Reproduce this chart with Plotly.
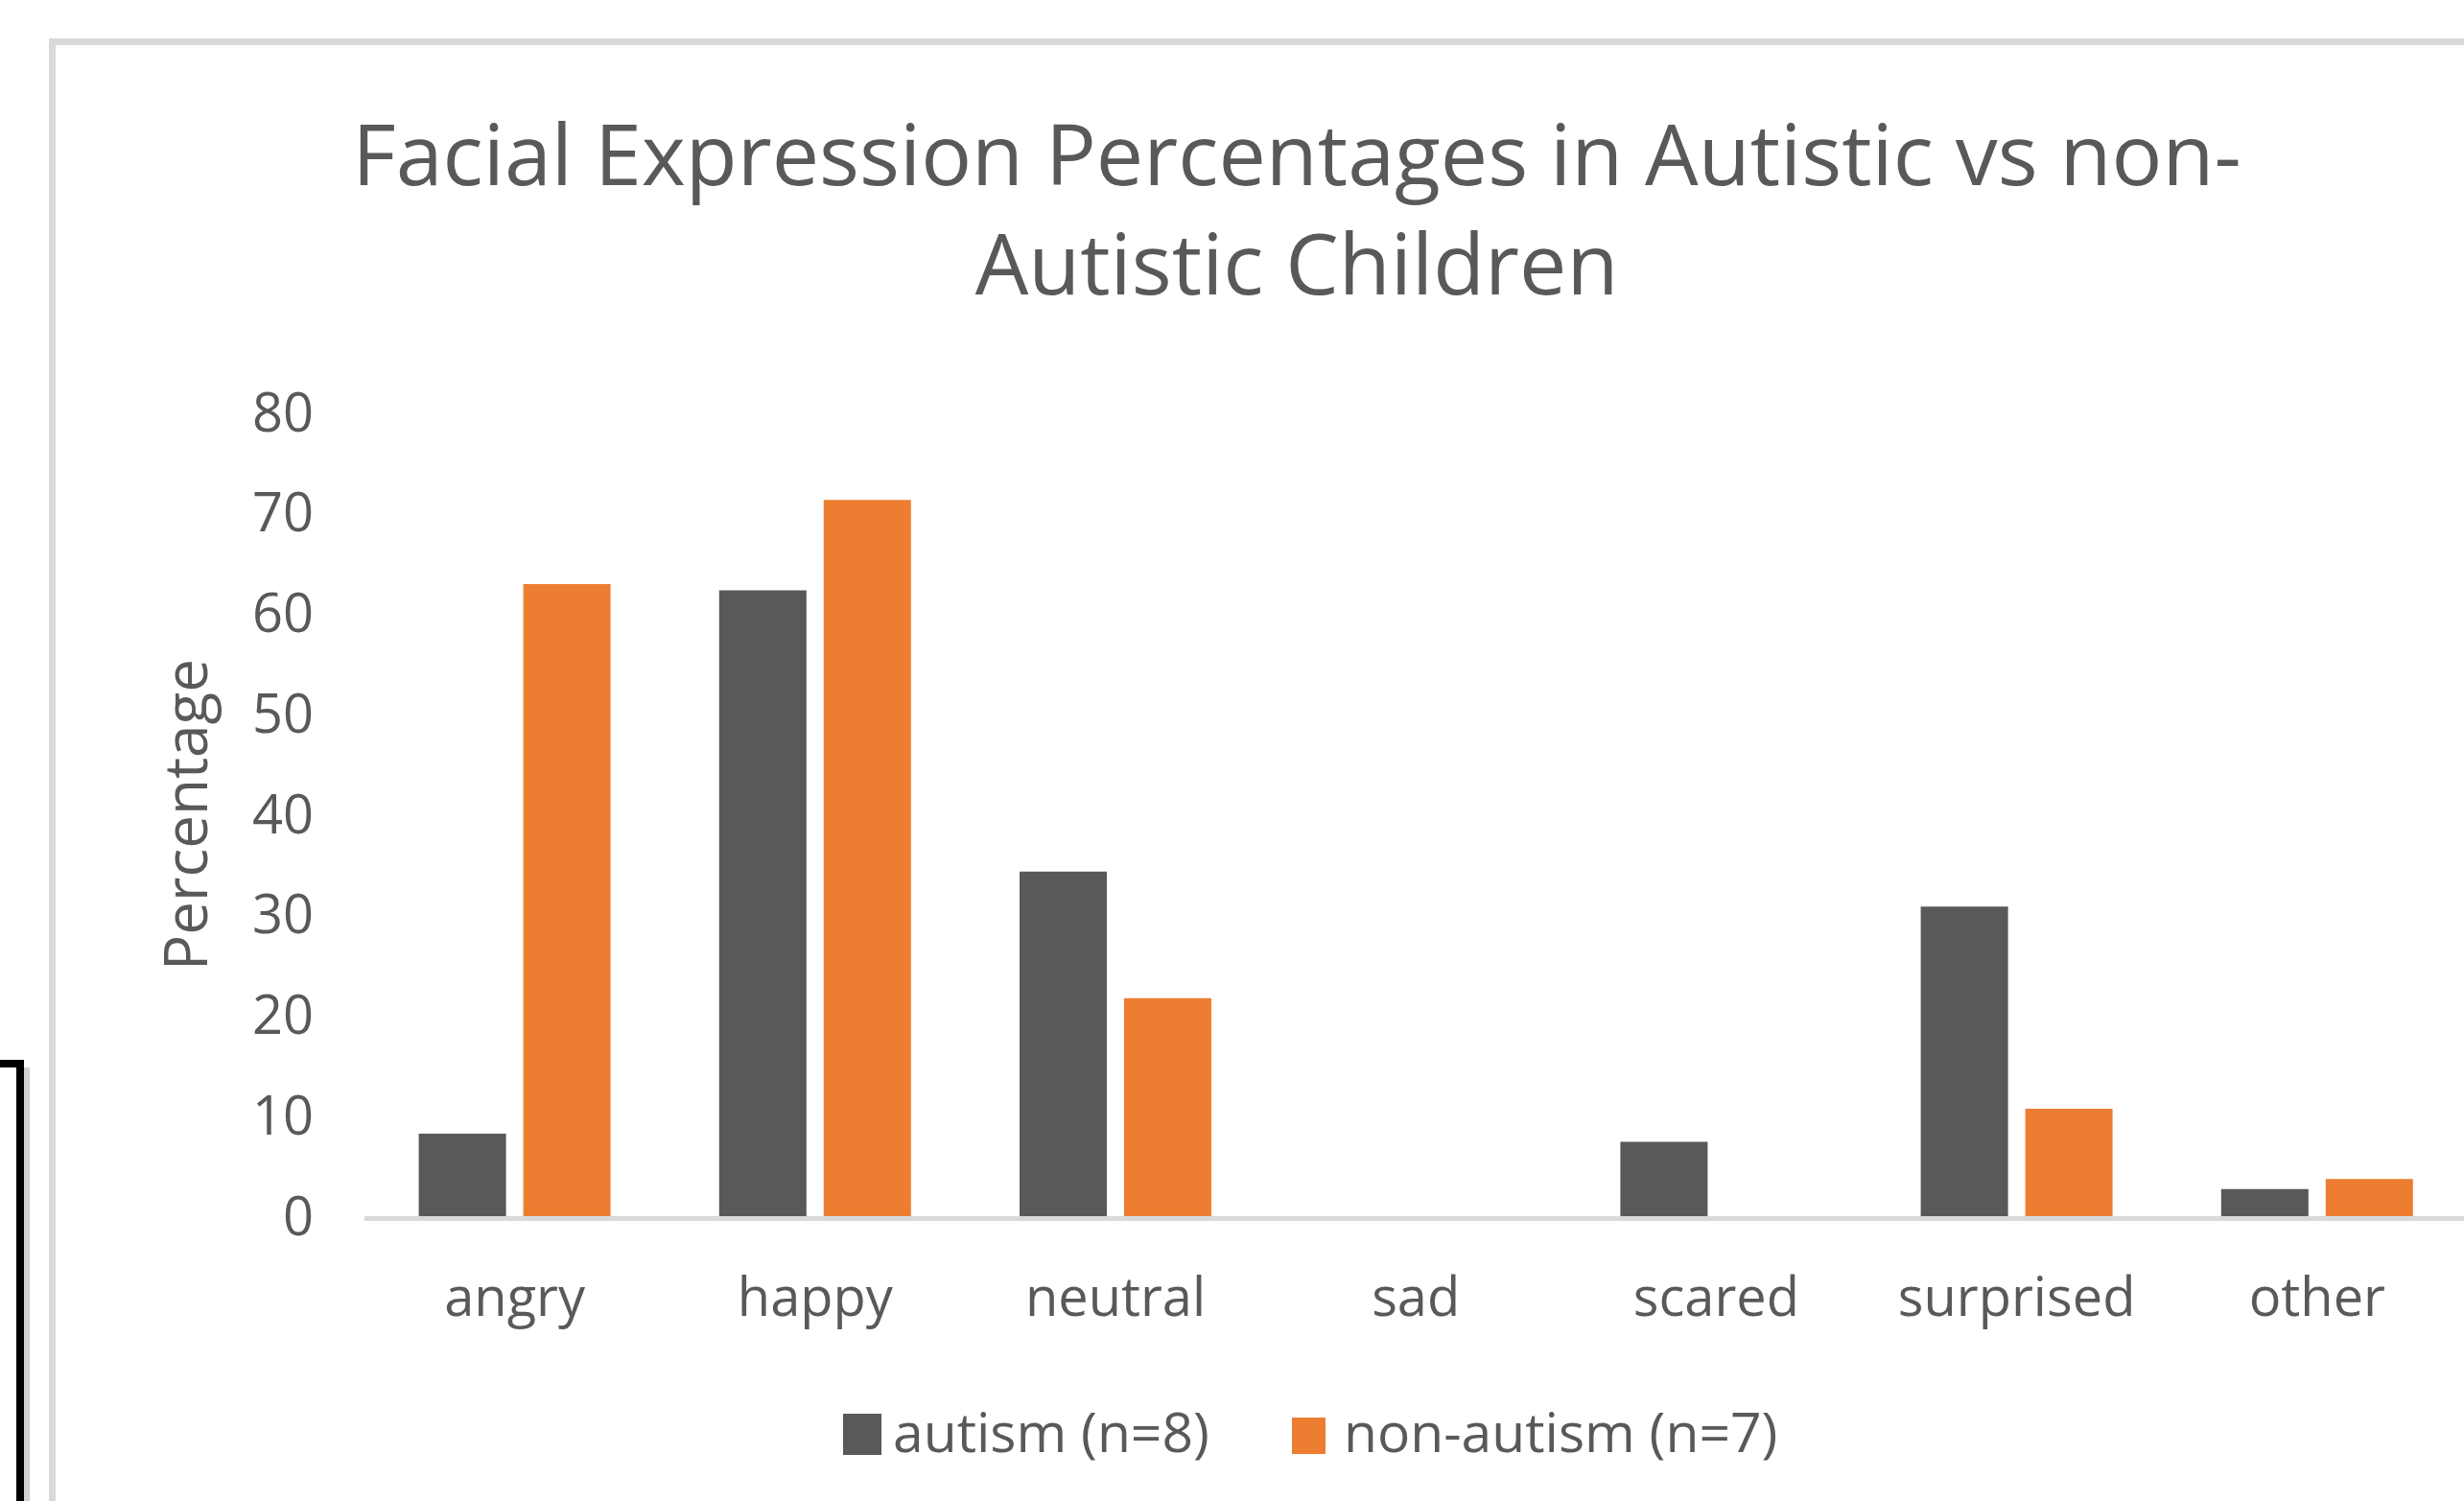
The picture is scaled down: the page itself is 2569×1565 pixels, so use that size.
import plotly.graph_objects as go

# ---- data ----
categories = ["angry", "happy", "neutral", "sad", "scared", "surprised", "other"]
autism = [8.2, 62.3, 34.3, 0, 7.4, 30.8, 2.7]
non_autism = [62.9, 71.3, 21.7, 0, 0, 10.7, 3.7]
series_names = ["autism (n=8)", "non-autism (n=7)"]
y_ticks = [0, 10, 20, 30, 40, 50, 60, 70, 80]
title_text = "Facial Expression Percentages in Autistic vs non-<br>Autistic Children"
y_title = "Percentage"

DARK = "#595959"
ORANGE = "#ED7D31"
TXT = "#595959"
FONT = "Open Sans"

W, H = 2569, 1565
L, R, T, B = 380, 2569, 430, 1268
PW, PH = R - L, B - T


def px2x(px):
    return (px - L) / PW


def py2y(py):
    return (B - py) / PH


fig = go.Figure()
fig.add_trace(go.Bar(x=categories, y=autism, name=series_names[0],
                     marker=dict(color=DARK, line=dict(width=0))))
fig.add_trace(go.Bar(x=categories, y=non_autism, name=series_names[1],
                     marker=dict(color=ORANGE, line=dict(width=0))))

shapes = []
# chart-area border (light gray)
shapes.append(dict(type="rect", xref="paper", yref="paper",
                   x0=px2x(51), x1=px2x(58), y0=py2y(40), y1=py2y(1600),
                   fillcolor="#d9d9d9", line=dict(width=0), layer="below"))
shapes.append(dict(type="rect", xref="paper", yref="paper",
                   x0=px2x(51), x1=px2x(2620), y0=py2y(40), y1=py2y(47),
                   fillcolor="#d9d9d9", line=dict(width=0), layer="below"))
# black frame fragment at far left
shapes.append(dict(type="rect", xref="paper", yref="paper",
                   x0=px2x(25), x1=px2x(31), y0=py2y(1113), y1=py2y(1600),
                   fillcolor="rgba(0,0,0,0.18)", line=dict(width=0), layer="below"))
shapes.append(dict(type="rect", xref="paper", yref="paper",
                   x0=px2x(17), x1=px2x(25), y0=py2y(1105), y1=py2y(1600),
                   fillcolor="#000000", line=dict(width=0), layer="below"))
shapes.append(dict(type="rect", xref="paper", yref="paper",
                   x0=px2x(-10), x1=px2x(25), y0=py2y(1105), y1=py2y(1113),
                   fillcolor="#000000", line=dict(width=0), layer="below"))
# legend swatches
shapes.append(dict(type="rect", xref="paper", yref="paper",
                   x0=px2x(879), x1=px2x(919), y0=py2y(1474), y1=py2y(1517),
                   fillcolor=DARK, line=dict(width=0)))
shapes.append(dict(type="rect", xref="paper", yref="paper",
                   x0=px2x(1347), x1=px2x(1382), y0=py2y(1478), y1=py2y(1516),
                   fillcolor=ORANGE, line=dict(width=0)))

annotations = [
    dict(text=y_title, xref="paper", yref="paper", x=px2x(192), y=py2y(850),
         xanchor="center", yanchor="middle", textangle=-90, showarrow=False,
         font=dict(family=FONT, size=62, color=TXT)),
    dict(text=series_names[0], xref="paper", yref="paper", x=px2x(929), y=py2y(1492),
         xanchor="left", yanchor="middle", showarrow=False,
         font=dict(family=FONT, size=57, color=TXT)),
    dict(text=series_names[1], xref="paper", yref="paper", x=px2x(1399), y=py2y(1492),
         xanchor="left", yanchor="middle", showarrow=False,
         font=dict(family=FONT, size=57, color=TXT)),
]

fig.update_layout(
    width=W, height=H,
    margin=dict(l=L, r=W - R, t=T, b=H - B, pad=0, autoexpand=False),
    paper_bgcolor="white", plot_bgcolor="white",
    showlegend=False,
    barmode="group", bargap=0.304, bargroupgap=0.165,
    title=dict(text=title_text, x=1352 / W, xref="container", xanchor="center",
               y=1 - 193 / H, yref="container", yanchor="top",
               font=dict(family=FONT, size=88, color=TXT)),
    shapes=shapes,
    annotations=annotations,
)
fig.update_xaxes(range=[-0.5, -0.5 + PW / 313.2], showgrid=False, zeroline=False,
                 showline=True, linecolor="#d9d9d9", linewidth=5, ticks="",
                 ticklabelstandoff=32,
                 tickfont=dict(family=FONT, size=56, color=TXT))
fig.update_yaxes(range=[0, 80], tickvals=y_ticks, showgrid=False, zeroline=False,
                 showline=False, ticks="", ticklabelstandoff=52,
                 tickfont=dict(family=FONT, size=56, color=TXT))

fig.write_html("out.html")
